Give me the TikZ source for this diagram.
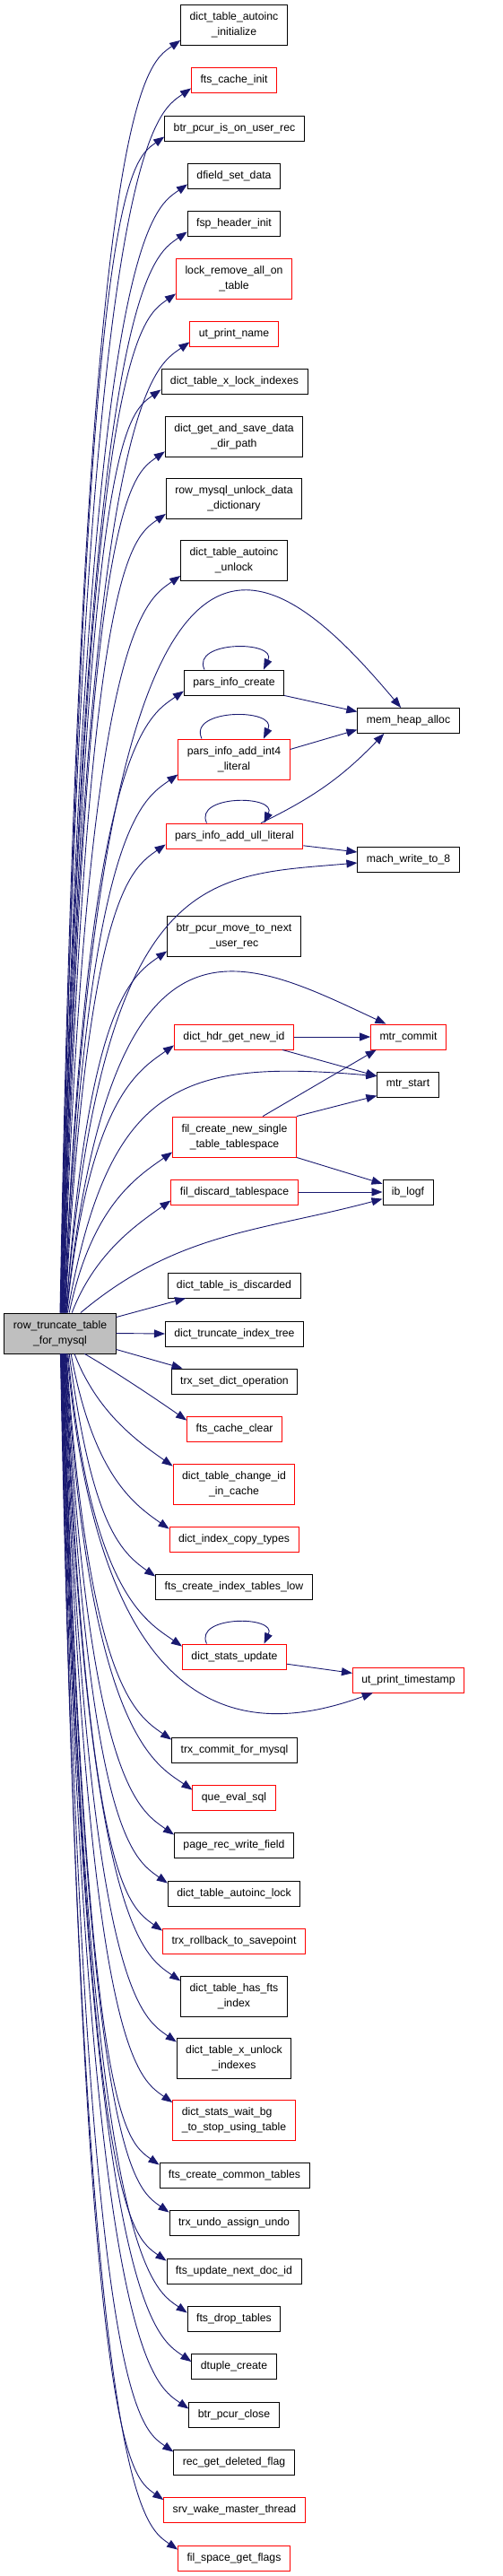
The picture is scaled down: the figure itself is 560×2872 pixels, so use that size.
\documentclass[tikz,border=0pt]{standalone}
\usepackage{fontspec}
\setmainfont{Liberation Sans}
\usetikzlibrary{arrows.meta,calc}
\definecolor{edgeblue}{RGB}{25,25,112}
\definecolor{rootgray}{RGB}{191,191,191}
\definecolor{boxred}{RGB}{255,0,0}
\tikzstyle{fn} = [rectangle, draw=black, line width=0.9pt, fill=white, inner xsep=10pt, inner ysep=3pt, minimum height=28pt, align=center, font=\fontsize{12.25}{17}\selectfont]
\tikzstyle{fnred} = [fn, draw=boxred]
\tikzstyle{twoline} = [minimum height=45pt]
\tikzstyle{call} = [draw=edgeblue, line width=0.9pt, >={Triangle[length=12pt,width=9pt]}, ->]
\tikzstyle{callup} = [to path={.. controls ($(\tikztostart |- \tikztotarget)+(25,-60)$) and ($(\tikztotarget)+(-40,-28)$) .. (\tikztotarget)}]
\tikzstyle{calldown} = [to path={.. controls ($(\tikztostart |- \tikztotarget)+(25,60)$) and ($(\tikztotarget)+(-40,28)$) .. (\tikztotarget)}]
\tikzstyle{recur} = [out=115, in=65, looseness=1.4]

\begin{document}
\begin{tikzpicture}[x=1pt, y=1pt]
    \useasboundingbox (0,0) rectangle (560,-2872);
    % caller
    \node[fn, twoline, fill=rootgray] (root) at (67,-1486.5) {row\_truncate\_table\\\_for\_mysql};

    % callees above
    \node[fn, twoline] (dtainit) at (261,-28) {dict\_table\_autoinc\\\_initialize};
    \node[fnred] (ftscinit) at (261,-89) {fts\_cache\_init};
    \node[fn] (bpison) at (261.5,-143) {btr\_pcur\_is\_on\_user\_rec};
    \node[fn] (dfsd) at (261,-196) {dfield\_set\_data};
    \node[fn] (fsphi) at (261,-249) {fsp\_header\_init};
    \node[fnred, twoline] (lockrm) at (261,-310.5) {lock\_remove\_all\_on\\\_table};
    \node[fnred] (utpn) at (261,-372) {ut\_print\_name};
    \node[fn] (dtxlock) at (261.5,-425) {dict\_table\_x\_lock\_indexes};
    \node[fn, twoline] (dgsddp) at (261,-486.5) {dict\_get\_and\_save\_data\\\_dir\_path};
    \node[fn, twoline] (rmudd) at (261,-556) {row\_mysql\_unlock\_data\\\_dictionary};
    \node[fn, twoline] (dtaunlock) at (261,-625) {dict\_table\_autoinc\\\_unlock};
    \node[fn] (pic) at (261,-761) {pars\_info\_create};
    \node[fnred, twoline] (piint4) at (261,-846.5) {pars\_info\_add\_int4\\\_literal};
    \node[fnred] (piull) at (261.5,-932) {pars\_info\_add\_ull\_literal};
    \node[fn, twoline] (bpmove) at (261,-1043.5) {btr\_pcur\_move\_to\_next\\\_user\_rec};
    \node[fnred] (dhgni) at (261,-1156) {dict\_hdr\_get\_new\_id};
    \node[fnred, twoline] (filcreate) at (261.5,-1267.5) {fil\_create\_new\_single\\\_table\_tablespace};
    \node[fnred] (fildiscard) at (261.5,-1329) {fil\_discard\_tablespace};
    \node[fn] (dtisdisc) at (261,-1433) {dict\_table\_is\_discarded};
    \node[fn] (dtrunc) at (261.5,-1487) {dict\_truncate\_index\_tree};

    % second level
    \node[fn] (memheap) at (455.5,-803.5) {mem\_heap\_alloc};
    \node[fn] (mach8) at (455.5,-958) {mach\_write\_to\_8};
    \node[fnred] (mtrcommit) at (455.5,-1156) {mtr\_commit};
    \node[fn] (mtrstart) at (455,-1209) {mtr\_start};
    \node[fn] (iblogf) at (455,-1329) {ib\_logf};
    \node[fnred] (utts) at (455.5,-1873) {ut\_print\_timestamp};

    % callees below
    \node[fn] (tsdo) at (261.5,-1540) {trx\_set\_dict\_operation};
    \node[fnred] (ftscclear) at (261.5,-1593) {fts\_cache\_clear};
    \node[fnred, twoline] (dtcid) at (261,-1654.5) {dict\_table\_change\_id\\\_in\_cache};
    \node[fnred] (dicopy) at (261,-1716) {dict\_index\_copy\_types};
    \node[fn] (ftscitl) at (261,-1769) {fts\_create\_index\_tables\_low};
    \node[fnred] (dsupdate) at (261.5,-1847) {dict\_stats\_update};
    \node[fn] (tcommit) at (261.5,-1951) {trx\_commit\_for\_mysql};
    \node[fnred] (qesql) at (261,-2004) {que\_eval\_sql};
    \node[fn] (prwf) at (261,-2057) {page\_rec\_write\_field};
    \node[fn] (dtalock) at (261,-2111) {dict\_table\_autoinc\_lock};
    \node[fnred] (trollback) at (261,-2164) {trx\_rollback\_to\_savepoint};
    \node[fn, twoline] (dthasfts) at (261,-2225.5) {dict\_table\_has\_fts\\\_index};
    \node[fn, twoline] (dtxunlock) at (261,-2294.5) {dict\_table\_x\_unlock\\\_indexes};
    \node[fnred, twoline, align=left] (dswait) at (261,-2364) {dict\_stats\_wait\_bg\\\_to\_stop\_using\_table};
    \node[fn] (ftscct) at (261.5,-2425) {fts\_create\_common\_tables};
    \node[fn] (tundo) at (261,-2478) {trx\_undo\_assign\_undo};
    \node[fn] (ftsundi) at (261,-2532) {fts\_update\_next\_doc\_id};
    \node[fn] (ftsdrop) at (261,-2585) {fts\_drop\_tables};
    \node[fn] (dtcreate) at (261,-2638.5) {dtuple\_create};
    \node[fn] (bpclose) at (261,-2692) {btr\_pcur\_close};
    \node[fn] (rgdf) at (261,-2745) {rec\_get\_deleted\_flag};
    \node[fnred] (srvwake) at (261.5,-2798.5) {srv\_wake\_master\_thread};
    \node[fnred] (fsgf) at (261,-2852) {fil\_space\_get\_flags};

    % calls going up
    \draw[call] (root.90) to[callup] ([yshift=6]dtainit.south west);
    \draw[call] (root.89) to[callup] ([yshift=5]ftscinit.south west);
    \draw[call] (root.88) to[callup] ([yshift=5]bpison.south west);
    \draw[call] (root.87) to[callup] ([yshift=5]dfsd.south west);
    \draw[call] (root.86) to[callup] ([yshift=5]fsphi.south west);
    \draw[call] (root.85) to[callup] ([yshift=6]lockrm.south west);
    \draw[call] (root.84) to[callup] ([yshift=5]utpn.south west);
    \draw[call] (root.83) to[callup] ([yshift=5]dtxlock.south west);
    \draw[call] (root.82) to[callup] ([yshift=6]dgsddp.south west);
    \draw[call] (root.81) to[callup] ([yshift=6]rmudd.south west);
    \draw[call] (root.80) to[callup] ([yshift=6]dtaunlock.south west);
    \draw[call] (root.79) to[out=87.5, in=130, out distance=985pt, in distance=246pt] (memheap.120);
    \draw[call] (root.78) to[callup] ([yshift=5]pic.south west);
    \draw[call] (root.77) to[callup] ([yshift=6]piint4.south west);
    \draw[call] (root.76) to[callup] ([yshift=5]piull.south west);
    \draw[call] (root.75) to[out=85, in=185, out distance=500pt, in distance=170pt] (mach8.184);
    \draw[call] (root.74) to[callup] ([yshift=6]bpmove.south west);
    \draw[call] (root.73) to[out=84, in=155, out distance=480pt, in distance=180pt] (mtrcommit.150);
    \draw[call] (root.72) to[callup] ([yshift=5]dhgni.south west);
    \draw[call] (root.70) to[out=80, in=175, out distance=260pt, in distance=220pt] (mtrstart.165);
    \draw[call] (root.66) to[callup] ([yshift=6]filcreate.south west);
    \draw[call] (root.60) to[callup] ([yshift=5]fildiscard.south west);
    \draw[call] (root.45) to[out=40, in=195] (iblogf.195);
    \draw[call] (root.16) -- (dtisdisc.195);
    \draw[call] (root.east) -- (dtrunc.west);

    % calls going down
    \draw[call] (root.344) -- (tsdo.166);
    \draw[call] (root.320) to[calldown] ([yshift=-5]ftscclear.north west);
    \draw[call] (root.305) to[calldown] ([yshift=-3]dtcid.north west);
    \draw[call] (root.298) to[calldown] ([yshift=-3]dicopy.north west);
    \draw[call] (root.294) to[calldown] ([yshift=-3]ftscitl.north west);
    \draw[call] (root.291) to[calldown] ([yshift=-3]dsupdate.north west);
    \draw[call] (root.289) to[out=-85, in=200, out distance=420pt, in distance=150pt] (utts.200);
    \draw[call] (root.287) to[calldown] ([yshift=-3]tcommit.north west);
    \draw[call] (root.286) to[calldown] ([yshift=-6]qesql.north west);
    \draw[call] (root.285) to[calldown] ([yshift=-3]prwf.north west);
    \draw[call] (root.284) to[calldown] ([yshift=-3]dtalock.north west);
    \draw[call] (root.283) to[calldown] ([yshift=-3]trollback.north west);
    \draw[call] (root.282) to[calldown] ([yshift=-6]dthasfts.north west);
    \draw[call] (root.281) to[calldown] ([yshift=-5]dtxunlock.north west);
    \draw[call] (root.280) to[calldown] ([yshift=-3]dswait.north west);
    \draw[call] (root.279) to[calldown] ([yshift=-3]ftscct.north west);
    \draw[call] (root.278) to[calldown] ([yshift=-3]tundo.north west);
    \draw[call] (root.277) to[calldown] ([yshift=-3]ftsundi.north west);
    \draw[call] (root.276) to[calldown] ([yshift=-8]ftsdrop.north west);
    \draw[call] (root.275) to[calldown] ([yshift=-9]dtcreate.north west);
    \draw[call] (root.274) to[calldown] ([yshift=-8]bpclose.north west);
    \draw[call] (root.273) to[calldown] ([yshift=-3]rgdf.north west);
    \draw[call] (root.272) to[calldown] ([yshift=-3]srvwake.north west);
    \draw[call] (root.271) to[calldown] ([yshift=-5]fsgf.north west);

    % recursive calls
    \draw[call] ([xshift=-33]pic.north) to[recur] ([xshift=33]pic.north);
    \draw[call] ([xshift=-36]piint4.north) to[recur] ([xshift=33]piint4.north);
    \draw[call] ([xshift=-31]piull.north) to[recur] ([xshift=33]piull.north);
    \draw[call] ([xshift=-31]dsupdate.north) to[recur] ([xshift=33]dsupdate.north);

    % second level calls
    \draw[call] (pic.south east) -- (memheap.170);
    \draw[call] (piint4.10) -- (memheap.190);
    \draw[call] (piull.26) to[bend right=10] (memheap.208);
    \draw[call] (piull.352) -- (mach8.172);
    \draw[call] (dhgni.east) -- (mtrcommit.west);
    \draw[call] (dhgni.345) -- (mtrstart.165);
    \draw[call] (filcreate.36) -- (mtrcommit.202);
    \draw[call] (filcreate.north east) -- (mtrstart.200);
    \draw[call] (filcreate.south east) -- (iblogf.162);
    \draw[call] (fildiscard.east) -- (iblogf.west);
    \draw[call] (dsupdate.352) -- (utts.173);
\end{tikzpicture}
\end{document}
